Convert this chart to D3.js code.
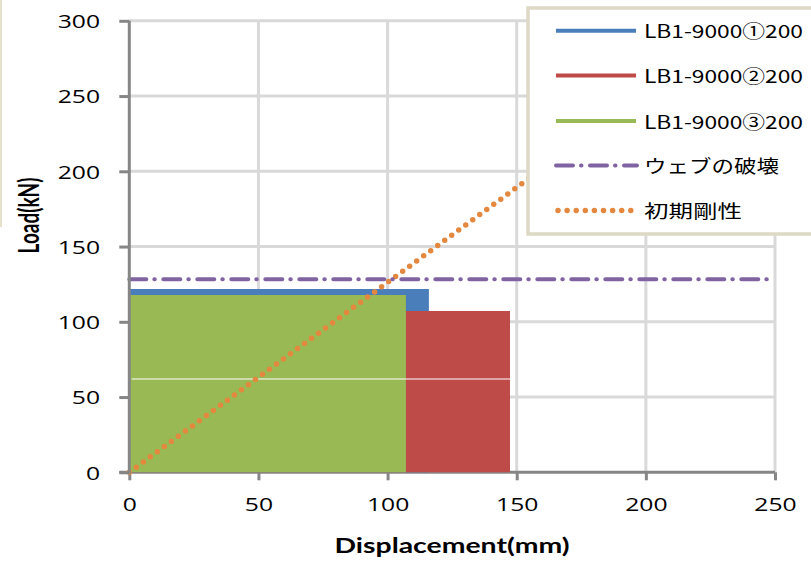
<!DOCTYPE html>
<html>
<head>
<meta charset="utf-8">
<script src="https://cdn.jsdelivr.net/npm/d3@7"></script>
<style>
  html, body { margin: 0; padding: 0; background: #fff; }
  svg { display: block; }
</style>
</head>
<body>
<svg id="chart" width="811" height="561"></svg>
<script>
// ---- data -------------------------------------------------------------
const xTicks = [0, 50, 100, 150, 200, 250];
const yTicks = [0, 50, 100, 150, 200, 250, 300];

const seriesNames = ["LB1-9000①200", "LB1-9000②200", "LB1-9000③200"];
const refNames = ["ウェブの破壊", "初期剛性"];

// load–displacement envelopes of each specimen (mm, kN)
const disp1 = [0, 0, 116.0, 116.0];
const load1 = [0, 121.8, 121.8, 0];
const disp2 = [0, 0, 147.4, 147.4];
const load2 = [0, 107.2, 107.2, 0];
const disp3 = [0, 0, 107.1, 107.1];
const load3 = [0, 117.8, 117.8, 0];

// unloading trace crossing specimens 2 and 3
const traceDisp = [0.9, 147.4];
const traceLoad = [62.0, 62.0];

const webFailureLoad = 128.2;      // kN
const webFailureSpan = [0, 250];   // mm
const initialStiffness = 1.262;    // kN/mm

// ---- layout -----------------------------------------------------------
const W = 811, H = 561;
const plot = { left: 129.3, right: 775, top: 20.8, bottom: 472.3 };
const colors = {
  s1: "#4A7EBB", s2: "#BE4B48", s3: "#98B954",
  web: "#8064A2", stiff: "#E4873F",
  grid: "#D9D9D9", axis: "#868686", legendBorder: "#DDD9C3"
};
const seriesColors = [colors.s1, colors.s2, colors.s3];
const tickFont = "'Open Sans', sans-serif";
const tickStretch = 1.3;   // wide tick lettering

const svg = d3.select("#chart");
const x = d3.scaleLinear().domain([0, 250]).range([plot.left, plot.right]);
const y = d3.scaleLinear().domain([0, 300]).range([plot.bottom, plot.top]);

svg.append("rect").attr("width", W).attr("height", H).attr("fill", "#fff");

// faint frame edge at the far left
svg.append("line")
  .attr("x1", 1).attr("x2", 1).attr("y1", 0).attr("y2", 227)
  .attr("stroke", "#E4E0CC").attr("stroke-width", 2);

// gridlines
const grid = svg.append("g");
grid.selectAll("line.h").data(yTicks.filter(d => d > 0)).join("line")
  .attr("x1", plot.left).attr("x2", plot.right)
  .attr("y1", d => y(d)).attr("y2", d => y(d))
  .attr("stroke", colors.grid).attr("stroke-width", 3);
grid.selectAll("line.v").data(xTicks.filter(d => d > 0)).join("line")
  .attr("x1", d => x(d)).attr("x2", d => x(d))
  .attr("y1", plot.top).attr("y2", plot.bottom)
  .attr("stroke", colors.grid).attr("stroke-width", 3);

// bottom axis
const xAxis = d3.axisBottom(x).tickValues(xTicks).tickSize(8).tickPadding(16)
  .tickFormat(d3.format("d"));
const gx = svg.append("g").attr("transform", `translate(0,${plot.bottom})`).call(xAxis);
gx.select(".domain").attr("stroke", colors.axis).attr("stroke-width", 3)
  .attr("d", `M${plot.left - 10},0H${plot.right}`);
gx.selectAll(".tick line").attr("stroke", colors.axis).attr("stroke-width", 3);
gx.selectAll(".tick text").attr("fill", "#000")
  .attr("y", 39).attr("dy", null)
  .attr("transform", `scale(${tickStretch},1)`)
  .style("font-family", tickFont).style("font-size", "19px");

// specimen envelopes
const area = d3.line().x(d => x(d[0])).y(d => y(d[1]));
const envelopes = [
  d3.zip(disp1, load1),
  d3.zip(disp2, load2),
  d3.zip(disp3, load3)
];
svg.append("g").selectAll("path").data(envelopes).join("path")
  .attr("d", d => area(d) + "Z")
  .attr("fill", (d, i) => seriesColors[i]);

// unloading trace
svg.append("path")
  .attr("d", area(d3.zip(traceDisp, traceLoad)))
  .attr("stroke", "#fff").attr("stroke-width", 1.2).attr("fill", "none");

// initial stiffness line, clipped at the top of the plot
const stiffDisp = [0, 300 / initialStiffness];
svg.append("path")
  .attr("d", area(stiffDisp.map(d => [d, d * initialStiffness])))
  .attr("fill", "none").attr("stroke", colors.stiff)
  .attr("stroke-width", 5.5).attr("stroke-linecap", "round")
  .attr("stroke-dasharray", "0,8.7");

// web failure load
svg.append("path")
  .attr("d", area(webFailureSpan.map(d => [d, webFailureLoad])))
  .attr("fill", "none").attr("stroke", colors.web)
  .attr("stroke-width", 4).attr("stroke-linecap", "round")
  .attr("stroke-dasharray", "17,8,0.5,8.5");

// left axis
const yAxis = d3.axisLeft(y).tickValues(yTicks).tickSize(10).tickPadding(19)
  .tickFormat(d3.format("d"));
const gy = svg.append("g").attr("transform", `translate(${plot.left},0)`).call(yAxis);
gy.select(".domain").attr("stroke", colors.axis).attr("stroke-width", 3)
  .attr("d", `M0,${plot.bottom + 1.5}V${plot.top}`);
gy.selectAll(".tick line").attr("stroke", colors.axis).attr("stroke-width", 3);
gy.selectAll(".tick text").attr("fill", "#000")
  .attr("x", -29.3 / tickStretch).attr("dy", "0.36em")
  .attr("transform", `scale(${tickStretch},1)`)
  .style("font-family", tickFont).style("font-size", "19px");

// axis titles
svg.append("text")
  .attr("x", 452).attr("y", 553).attr("text-anchor", "middle")
  .attr("textLength", 235).attr("lengthAdjust", "spacingAndGlyphs")
  .style("font-family", "Lato, sans-serif").style("font-weight", "bold")
  .style("font-size", "21px").text("Displacement(mm)");
svg.append("text")
  .attr("transform", "translate(39,215.5) scale(1.5,1) rotate(-90)")
  .attr("text-anchor", "middle")
  .style("font-family", "Lato, sans-serif").style("font-weight", "bold")
  .style("font-size", "19px").text("Load(kN)");

// legend
const legend = svg.append("g");
legend.append("rect")
  .attr("x", 528).attr("y", 8).attr("width", 300).attr("height", 226)
  .attr("fill", "#fff").attr("stroke", colors.legendBorder).attr("stroke-width", 3.5);

const rowY = [30.7, 75.5, 121, 165.5, 210.5];
const sx0 = 556, sx1 = 636, tx = 644;

seriesNames.forEach((name, i) => {
  legend.append("line")
    .attr("x1", sx0).attr("x2", sx1).attr("y1", rowY[i]).attr("y2", rowY[i])
    .attr("stroke", seriesColors[i]).attr("stroke-width", 4);
  legend.append("text")
    .attr("x", tx).attr("y", rowY[i] + 7.5)
    .attr("textLength", 159).attr("lengthAdjust", "spacingAndGlyphs")
    .style("font-family", "'Noto Sans CJK JP', sans-serif").style("font-size", "18px")
    .text(name);
});

legend.append("line")
  .attr("x1", sx0).attr("x2", sx1 + 1).attr("y1", rowY[3]).attr("y2", rowY[3])
  .attr("stroke", colors.web).attr("stroke-width", 4).attr("stroke-linecap", "round")
  .attr("stroke-dasharray", "17,8,0.5,8.5");
legend.append("text")
  .attr("x", tx).attr("y", rowY[3] + 7)
  .attr("textLength", 135).attr("lengthAdjust", "spacingAndGlyphs")
  .style("font-family", "'Noto Sans CJK JP', sans-serif").style("font-size", "18px")
  .text(refNames[0]);

legend.append("line")
  .attr("x1", sx0 + 2).attr("x2", sx1 - 4).attr("y1", rowY[4]).attr("y2", rowY[4])
  .attr("stroke", colors.stiff).attr("stroke-width", 5.5).attr("stroke-linecap", "round")
  .attr("stroke-dasharray", "0,9.1");
legend.append("text")
  .attr("x", tx).attr("y", rowY[4] + 7)
  .attr("textLength", 98).attr("lengthAdjust", "spacingAndGlyphs")
  .style("font-family", "'Noto Sans CJK JP', sans-serif").style("font-size", "18px")
  .text(refNames[1]);
</script>
</body>
</html>
